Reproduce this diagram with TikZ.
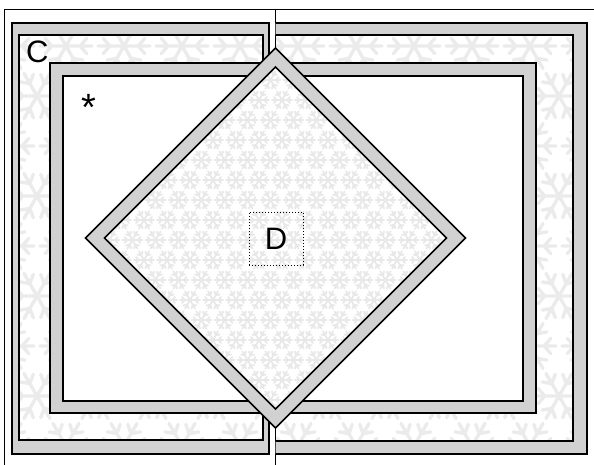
\documentclass[tikz,border=0pt]{standalone}
\usepackage{fontspec}
\setmainfont{Liberation Sans}

\begin{document}
\begin{tikzpicture}[x=1pt, y=-1pt,
    thin/.style = {draw=black, line width=0.8pt},
    band/.style = {fill=black!18, draw=black, line width=1.7pt, even odd rule},
    lab/.style = {inner sep=0pt, font=\fontsize{31}{33}\selectfont},
    flake/.pic = {\foreach \a in {0,60,...,300}
        {\draw[rotate=\a, line cap=round] (0,0) -- (1,0) (0.55,0) -- ++(50:0.38) (0.55,0) -- ++(-50:0.38);}},
    bigflake/.style = {scale=26, color=black!8, line width=3.4pt},
    smallflake/.style = {scale=10, color=black!9, line width=1.8pt}]
    \useasboundingbox (0,0) rectangle (594,464);
    \clip (0,0) rectangle (594,464);

    % the two pages
    \draw[thin] (4,9) rectangle (275,480);
    \draw[thin] (275,9) rectangle (610,480);

    % big snowflakes between the outer and inner frames
    \begin{scope}
        \clip (19,35) rectangle (263,440) (276,35) rectangle (573,441);
        \foreach \i in {0,...,9} \foreach \j in {0,...,11} {
            \pgfmathsetmacro\fx{8+58*\j+29*mod(\i,2)}
            \pgfmathsetmacro\fy{46+50*\i}
            \pic[bigflake] at (\fx,\fy) {flake};
        }
    \end{scope}

    % outer frames
    \path[band] (12,23) rectangle (269,454) (19,35) rectangle (263,440);
    \begin{scope}
        \clip (275.6,0) rectangle (594,464);
        \path[band] (240,23) rectangle (587,454) (240,35) rectangle (573,441);
    \end{scope}

    % inner frame
    \fill[white] (63,76) rectangle (523,401);
    \path[band] (50,63) rectangle (536,413) (63,76) rectangle (523,401);

    % diamond with small snowflakes
    \fill[white] (275.5,67) -- (446.5,238) -- (275.5,409) -- (104.5,238) -- cycle;
    \begin{scope}
        \clip (275.5,67) -- (446.5,238) -- (275.5,409) -- (104.5,238) -- cycle;
        \foreach \i in {0,...,18} \foreach \j in {0,...,16} {
            \pgfmathsetmacro\fx{98+23*\j+11.5*mod(\i,2)}
            \pgfmathsetmacro\fy{60+20*\i}
            \pic[smallflake] at (\fx,\fy) {flake};
        }
    \end{scope}
    \path[band] (275.5,48) -- (465.5,238) -- (275.5,428) -- (85.5,238) -- cycle
        (275.5,67) -- (446.5,238) -- (275.5,409) -- (104.5,238) -- cycle;

    % labels
    \node[lab, anchor=north west] (C) at (26,41) {C};
    \node[lab, anchor=north, font=\fontsize{38}{40}\selectfont] (star) at (89,94) {*};
    \node[lab, draw, dotted, line width=1pt, minimum width=54pt, minimum height=53pt] (D) at (276,238.5) {D};
\end{tikzpicture}
\end{document}
